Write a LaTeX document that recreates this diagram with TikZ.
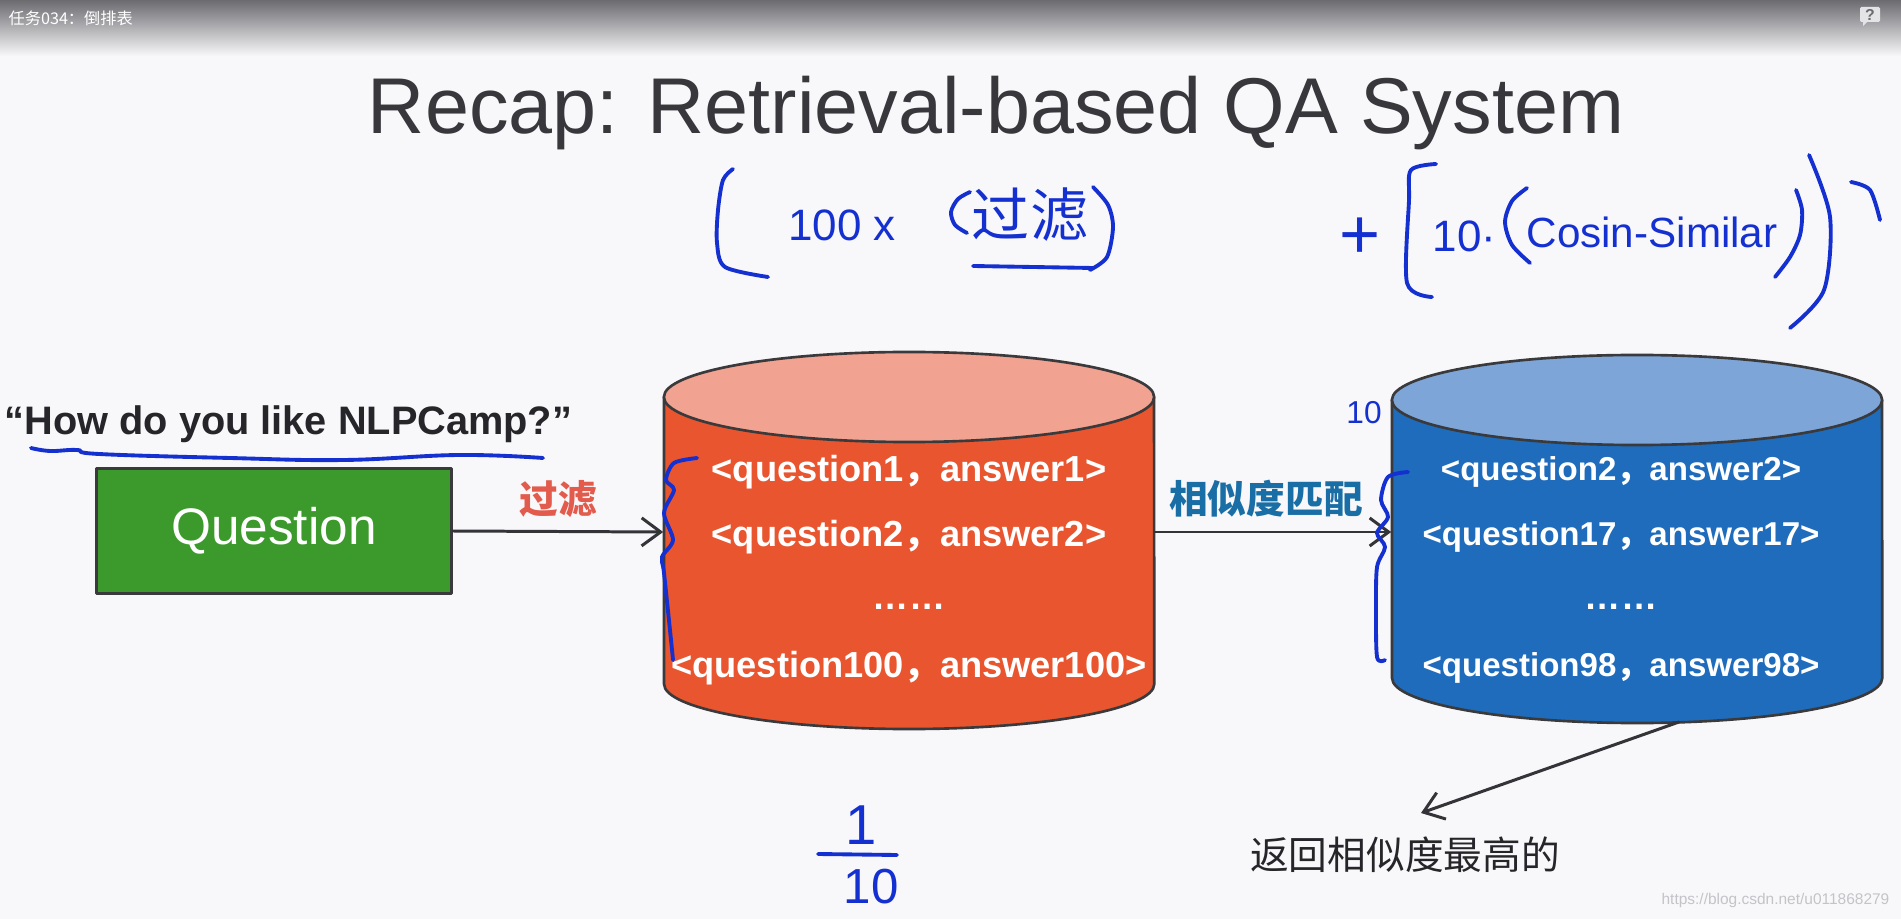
\documentclass[tikz,border=0pt]{standalone}
\usepackage{fontspec}
\setmainfont{Liberation Sans}
\newfontfamily\cjk{Noto Sans CJK SC}
\usetikzlibrary{arrows.meta}
\definecolor{cfondo}{HTML}{F8F8FA}
\definecolor{cbarra}{HTML}{6B6B70}
\definecolor{cbarramedio}{HTML}{A4A4A8}
\definecolor{cayuda}{HTML}{E4E4E6}
\definecolor{ctitulo}{HTML}{38383C}
\definecolor{ctexto}{HTML}{26262A}
\definecolor{cverde}{HTML}{3C9A2C}
\definecolor{cborde}{HTML}{3A3A3C}
\definecolor{cnaranja}{HTML}{E8552F}
\definecolor{csalmon}{HTML}{F2A291}
\definecolor{cazul}{HTML}{1E6CBB}
\definecolor{ccielo}{HTML}{7DA5D8}
\definecolor{ctinta}{HTML}{1530D0}
\definecolor{crojo}{HTML}{E25B4C}
\definecolor{cazulrotulo}{HTML}{1A6EA6}
\definecolor{cflecha}{HTML}{333338}
\definecolor{cmarca}{HTML}{C4C4C8}
\begin{document}
\begin{tikzpicture}[x=0.01cm, y=-0.01cm, line cap=round, line join=round,
    pluma/.style={draw=ctinta, line width=1.1pt},
    mano/.style={text=ctinta, inner sep=0pt},
    fila/.style={text=white, inner sep=0pt, font=\bfseries\fontsize{10.3}{12}\selectfont},
    flecha/.style={draw=cflecha, line width=0.85pt, -{Straight Barb[length=1.9mm, width=2.8mm]}}]
  \useasboundingbox (0,0) rectangle (1901,919);
  % el fondo y la barra del vídeo
  \fill[cfondo] (0,0) rectangle (1901,919);
  \shade[top color=cbarra, middle color=cbarramedio, bottom color=cfondo] (0,0) rectangle (1901,56);
  \node[anchor=west, text=white, inner sep=0pt, font=\cjk\fontsize{4.6}{5}\selectfont] (tarea) at (8,18) {任务034：倒排表};
  \fill[cayuda, rounded corners=0.4pt] (1860,7) rectangle (1880,22);
  \fill[cayuda] (1863,21) -- (1863,26) -- (1868,21) -- cycle;
  \node[text=cbarra, inner sep=0pt, font=\bfseries\fontsize{4.5}{5}\selectfont] (ayuda) at (1870,14.5) {?};
  % el título
  \node[anchor=base, text=ctitulo, inner sep=0pt, font=\fontsize{22.5}{26}\selectfont] (titulo) at (996,134) {Recap: Retrieval-based QA System};
  % la pregunta y su caja
  \node[anchor=base west, text=ctexto, inner sep=0pt, font=\bfseries\fontsize{11.3}{13}\selectfont] (frase) at (4,435) {“How do you like NLPCamp?”};
  \node[draw=cborde, line width=0.85pt, fill=cverde, text=white, minimum width=3.55cm, minimum height=1.25cm, font=\fontsize{14.6}{17}\selectfont] (question) at (274,531) {Question};
  % los dos cilindros, con su tapa
  \foreach \cx/\ca/\cb/\cuerpo/\tapa in {909/397/684/cnaranja/csalmon, 1637/400/678/cazul/ccielo} {
    \filldraw[fill=\cuerpo, draw=cborde, line width=0.75pt] (\cx-245,\ca) -- (\cx-245,\cb) arc[start angle=180, end angle=360, x radius=2.45cm, y radius=0.45cm] -- (\cx+245,\ca) -- cycle;
    \filldraw[fill=\tapa, draw=cborde, line width=0.75pt] (\cx,\ca) ellipse[x radius=2.45cm, y radius=0.45cm];
  }
  \node[minimum width=4.9cm, inner sep=0pt] (pool) at (909,532) {};
  \node[minimum width=4.9cm, inner sep=0pt] (best) at (1637,532) {};
  % las filas de cada cilindro
  \foreach \i/\fy/\nq in {1/472/1, 2/537/2, 4/668/100}
    \node[fila] (o\i) at (909,\fy) {<question\nq{\cjk，}answer\nq>};
  \node[fila] (o3) at (909,607) {……};
  \foreach \i/\fy/\nq in {1/472/2, 2/537/17, 4/668/98}
    \node[fila, font=\bfseries\fontsize{9.4}{11}\selectfont] (b\i) at (1621,\fy) {<question\nq{\cjk，}answer\nq>};
  \node[fila] (b3) at (1621,607) {……};
  % las flechas con sus rótulos
  \draw[flecha] (question.east) -- (pool.west);
  \node[text=crojo, font=\cjk\bfseries\fontsize{11}{13}\selectfont] (filtro) at (558,499) {过滤};
  \draw[flecha] (pool.east) -- (best.west);
  \node[text=cazulrotulo, font=\cjk\bfseries\fontsize{11}{13}\selectfont] (parecido) at (1266,499) {相似度匹配};
  \coordinate (salida) at (1679,722);
  \coordinate (punta) at (1421,813);
  \draw[flecha] (salida) -- (punta);
  \node[text=ctexto, font=\cjk\fontsize{11}{13}\selectfont] (devuelve) at (1405,855) {返回相似度最高的};
  \node[anchor=east, text=cmarca, inner sep=0pt, font=\fontsize{4.4}{5}\selectfont] (marca) at (1890,900) {https://blog.csdn.net/u011868279};
  % lo escrito a mano, en azul
  \draw[pluma] plot[smooth, tension=0.7] coordinates {(31,448) (50,451) (77,450) (99,454) (230,458) (344,460) (459,455) (543,458)};
  \draw[pluma] plot[smooth] coordinates {(733,169) (723,180) (718,210) (717,243) (725,267) (768,277)};
  \node[mano, font=\fontsize{12.5}{14}\selectfont] (cien) at (842,225) {100 x};
  \draw[pluma] plot[smooth] coordinates {(970,192) (958,199) (951,212) (955,225) (967,233)};
  \node[mano, font=\cjk\fontsize{16.5}{18}\selectfont] (filtrado) at (1030,215) {过滤};
  \draw[pluma] plot[smooth] coordinates {(1093,187) (1108,205) (1113,227) (1107,257) (1090,270)};
  \draw[pluma] (973,266) -- (1093,268);
  \node[mano, font=\fontsize{20}{22}\selectfont] (mas) at (1360,238) {+};
  \draw[pluma] plot[smooth] coordinates {(1436,164) (1411,170) (1409,200) (1407,283) (1432,297)};
  \node[mano, anchor=west, font=\fontsize{12.5}{14}\selectfont] (diez) at (1432,236) {10·};
  \draw[pluma] plot[smooth] coordinates {(1527,188) (1512,201) (1505,222) (1512,245) (1530,263)};
  \node[mano, font=\fontsize{12}{14}\selectfont] (coseno) at (1652,232) {Cosin-Similar};
  \draw[pluma] plot[smooth] coordinates {(1796,190) (1802,210) (1800,235) (1790,257) (1775,277)};
  \draw[pluma] plot[smooth] coordinates {(1809,155) (1830,217) (1824,290) (1790,328)};
  \draw[pluma] plot[smooth] coordinates {(1851,182) (1870,190) (1880,220)};
  % las llaves junto a las filas
  \draw[pluma] plot[smooth] coordinates {(697,458) (674,463) (666,480) (674,490) (664,513) (673,540) (662,557) (664,573) (671,640) (673,660)};
  \draw[pluma] plot[smooth] coordinates {(1408,472) (1388,477) (1381,500) (1388,517) (1377,533) (1385,547) (1377,567) (1376,607) (1377,657) (1385,660)};
  \node[mano, font=\fontsize{9}{10}\selectfont] (diezb) at (1364,413) {10};
  % un décimo, abajo
  \node[mano, font=\fontsize{16}{18}\selectfont] (uno) at (861,825) {1};
  \draw[pluma] (818,854) -- (897,855);
  \node[mano, font=\fontsize{14}{16}\selectfont] (diezc) at (871,887) {10};
\end{tikzpicture}
\end{document}
